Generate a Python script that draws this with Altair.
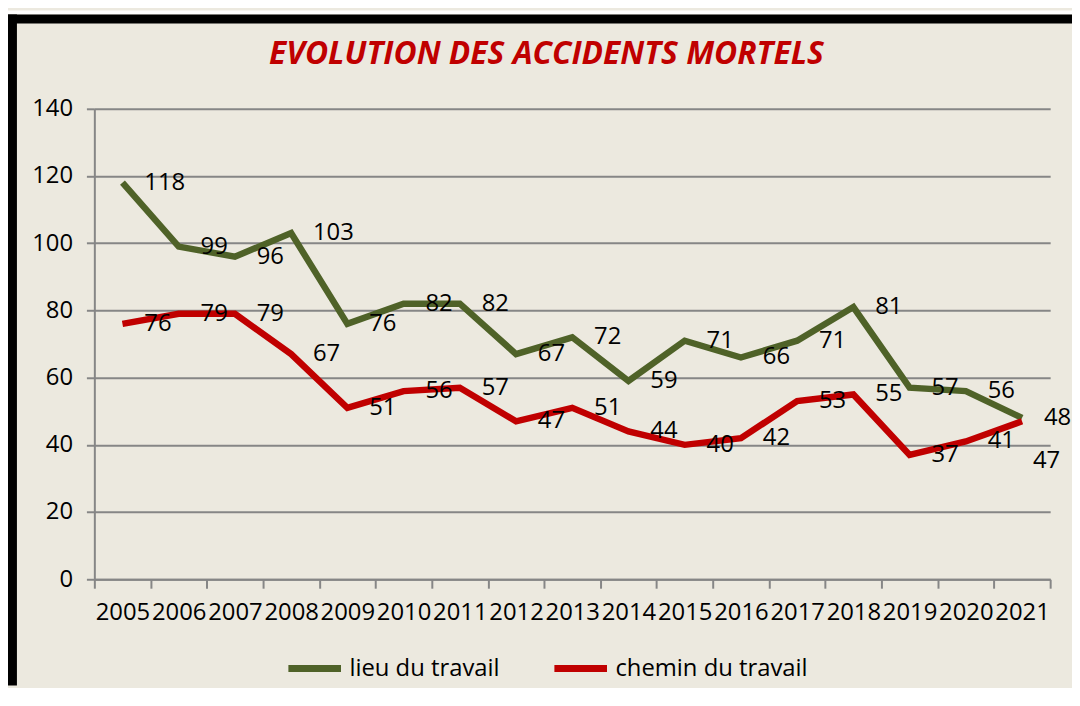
import altair as alt
import pandas as pd

# ---- data ----
years = [str(y) for y in range(2005, 2022)]
lieu = [118, 99, 96, 103, 76, 82, 82, 67, 72, 59, 71, 66, 71, 81, 57, 56, 48]
chemin = [76, 79, 79, 67, 51, 56, 57, 47, 51, 44, 40, 42, 53, 55, 37, 41, 47]
series = ["lieu du travail", "chemin du travail"]
colors = ["#4F6228", "#C00000"]
y_ticks = [0, 20, 40, 60, 80, 100, 120, 140]

rows = []
for i, yr in enumerate(years):
    rows.append({"annee": yr, "serie": series[0], "valeur": lieu[i]})
    rows.append({"annee": yr, "serie": series[1], "valeur": chemin[i]})
df = pd.DataFrame(rows)

# ---- layout ----
W, H = 963, 474
PAD = {"left": 87, "top": 99, "right": 22, "bottom": 107}
FONT = "Open Sans"
GRID = "#868686"
BG = "#ECE9DF"

x_enc = alt.X(
    "annee:O",
    sort=years,
    scale=alt.Scale(type="band", paddingInner=0, paddingOuter=0),
    axis=alt.Axis(
        title=None, labelAngle=0, labelFontSize=24, labelColor="black",
        labelPadding=13, tickBand="extent", tickSize=9, tickWidth=2,
        tickColor=GRID, domainColor=GRID, domainWidth=2,
        labelOverlap=False, labelBound=False, labelFlush=False, grid=False,
    ),
)
y_enc = alt.Y(
    "valeur:Q",
    scale=alt.Scale(domain=[0, 140], nice=False, zero=True),
    axis=alt.Axis(
        title=None, values=y_ticks, labelFontSize=24, labelColor="black",
        labelPadding=14, tickSize=8, tickWidth=2, tickColor=GRID,
        domainColor=GRID, domainWidth=2, grid=True, gridColor=GRID,
        gridWidth=2,
    ),
)

base = alt.Chart(df)

lines = base.mark_line(strokeWidth=6.5, strokeJoin="miter").encode(
    x=x_enc,
    y=y_enc,
    color=alt.Color(
        "serie:N",
        sort=series,
        scale=alt.Scale(domain=series, range=colors),
        legend=alt.Legend(
            title=None, orient="none", legendX=192, legendY=534,
            direction="horizontal", labelFontSize=24, labelColor="black",
            symbolType="stroke", symbolStrokeWidth=7, symbolSize=2809,
            labelOffset=5, columnPadding=40, padding=0, labelLimit=400,
        ),
    ),
    detail="serie:N",
)

last_year = years[-1]
is_last_lower = (alt.datum.annee == last_year) & (alt.datum.serie == series[1])

labels = base.mark_text(
    align="left", baseline="middle", dx=22, fontSize=24, color="black"
).encode(x=x_enc, y=y_enc, text="valeur:Q").transform_filter(~is_last_lower)

# the last lower-series label would sit on top of the other one: put it below
labels_last = base.mark_text(
    align="left", baseline="middle", dx=11, dy=40, fontSize=24, color="black"
).encode(x=x_enc, y=y_enc, text="valeur:Q").transform_filter(is_last_lower)

one = pd.DataFrame({"k": [0]})
white_strip = alt.Chart(one).mark_rule(color="white", strokeWidth=4).encode(
    x=alt.value(-PAD["left"]), x2=alt.value(W + PAD["right"]), y=alt.value(-97)
)
frame_left = alt.Chart(one).mark_rule(color="black", strokeWidth=9).encode(
    x=alt.value(-82.5), y=alt.value(-95), y2=alt.value(H + PAD["bottom"])
)
frame_top = alt.Chart(one).mark_rule(color="black", strokeWidth=9).encode(
    x=alt.value(-PAD["left"]), x2=alt.value(W + PAD["right"]), y=alt.value(-90.5)
)

chart = (
    alt.layer(white_strip, frame_left, frame_top, lines, labels, labels_last)
    .properties(
        width=W,
        height=H,
        padding=PAD,
        autosize=alt.AutoSizeParams(type="none"),
        background=BG,
        title=alt.Title(
            "EVOLUTION DES ACCIDENTS MORTELS",
            fontSize=32, fontWeight="bold", fontStyle="italic",
            color="#C00000", anchor="middle", frame="group",
            offset=-86, baseline="alphabetic", dx=-26, font=FONT,
        ),
    )
    .configure(font=FONT)
    .configure_view(strokeWidth=0)
)

chart.save("out.html", embed_options={"renderer": "svg", "actions": False})
